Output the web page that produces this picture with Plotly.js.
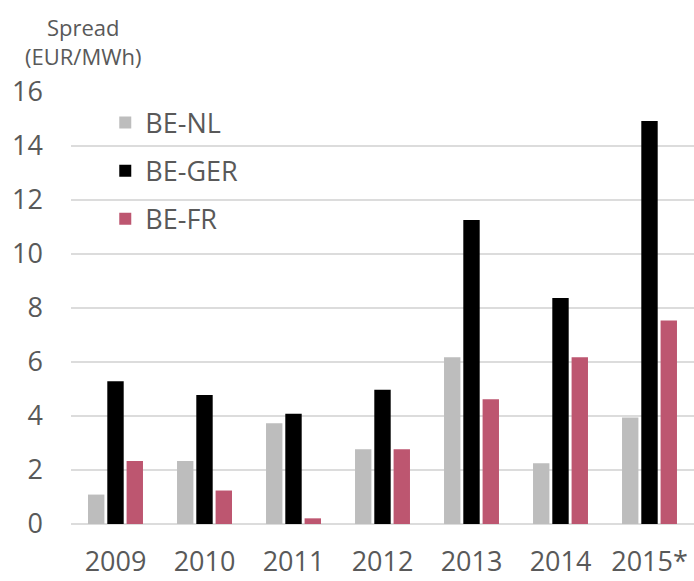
<!DOCTYPE html>
<html>
<head>
<meta charset="utf-8">
<script src="https://cdn.plot.ly/plotly-3.0.1.min.js"></script>
<style>html,body{margin:0;padding:0;background:#fff;}#chart{width:694px;height:581px;}</style>
</head>
<body>
<div id="chart"></div>
<script>
const years = ["2009", "2010", "2011", "2012", "2013", "2014", "2015*"];
const beNL  = [1.09, 2.33, 3.73, 2.77, 6.18, 2.25, 3.94];
const beGER = [5.29, 4.78, 4.08, 4.97, 11.26, 8.37, 14.93];
const beFR  = [2.33, 1.24, 0.21, 2.77, 4.62, 6.18, 7.54];
const yTicks = [0, 2, 4, 6, 8, 10, 12, 14, 16];

const font = "'Open Sans', 'Segoe UI', sans-serif";
const traces = [
  {type: 'bar', name: 'BE-NL', x: years, y: beNL, marker: {color: '#bdbdbd'}, legendgroup: 'a'},
  {type: 'bar', name: 'BE-GER', x: years, y: beGER, marker: {color: '#000000'}, legendgroup: 'b'},
  {type: 'bar', name: 'BE-FR', x: years, y: beFR, marker: {color: '#bd5670'}, legendgroup: 'c'}
];
const layout = {
  width: 694, height: 581,
  margin: {l: 71, r: 0, t: 92, b: 57},
  paper_bgcolor: '#ffffff', plot_bgcolor: '#ffffff',
  barmode: 'group', bargap: 0.35, bargroupgap: 0.15,
  font: {family: font, color: '#595959'},
  xaxis: {
    type: 'category', showgrid: false, zeroline: false, showline: false,
    ticks: '', tickfont: {size: 27, color: '#595959'}, ticklabelstandoff: 19
  },
  yaxis: {
    range: [0, 16], tickvals: yTicks, showgrid: true, gridcolor: '#dcdcdc', gridwidth: 1.3,
    zeroline: true, zerolinecolor: '#dcdcdc', zerolinewidth: 1.3, showline: false,
    ticks: '', tickfont: {size: 27, color: '#595959'}, ticklabelstandoff: 27
  },
  legend: {
    x: 0.055, y: 0.985, xanchor: 'left', yanchor: 'top',
    bgcolor: 'rgba(0,0,0,0)', font: {size: 27, color: '#595959'},
    traceorder: 'grouped', tracegroupgap: 10
  },
  showlegend: true,
  annotations: [
    {text: 'Spread<br>(EUR/MWh)', xref: 'paper', yref: 'paper', x: 0.02, y: 1.19,
     xanchor: 'center', yanchor: 'top', showarrow: false, align: 'center',
     font: {size: 22, color: '#595959', family: font}}
  ]
};
Plotly.newPlot('chart', traces, layout, {displayModeBar: false, staticPlot: true});
</script>
</body>
</html>
